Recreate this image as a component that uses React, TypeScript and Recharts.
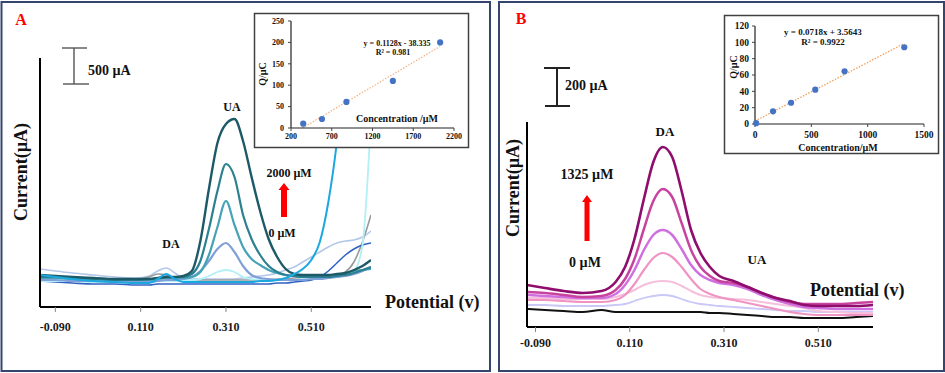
import React from 'react';
import { LineChart, Line, XAxis, YAxis, ComposedChart, Scatter } from 'recharts';

const FONT = "'Liberation Serif', 'Times New Roman', serif";

// ---------- Panel A : UA oxidation (potential in V, current in arbitrary units) ----------
const potentialsA = [-0.126, -0.09, -0.05, 0, 0.05, 0.1, 0.13, 0.15, 0.17, 0.19, 0.21, 0.23, 0.25, 0.27, 0.29, 0.31, 0.33, 0.35, 0.37, 0.39, 0.41, 0.43, 0.45, 0.47, 0.49, 0.51, 0.53, 0.55, 0.57, 0.59, 0.61, 0.63, 0.65];
const aDarkTeal = [32, 31, 30, 29, 28, 28, 28, 29, 30, 30, 31, 36, 66, 118, 164, 183, 188, 166, 130, 96, 68, 50, 38, 33, 32, 32, 32, 32, 33, 34, 37, 41, 47];
const aTeal = [30, 30, 29, 28, 27, 27, 28, 29, 30, 30, 30, 33, 46, 78, 116, 143, 130, 92, 68, 52, 41, 35, 32, 31, 30, 30, 30, 30, 31, 32, 34, 37, 40];
const aLightTeal = [29, 29, 28, 28, 27, 27, 27, 28, 29, 29, 29, 30, 35, 52, 80, 106, 82, 60, 48, 42, 37, 34, 32, 31, 30, 30, 30, 31, 32, 34, 36, 37, 38];
const aPeriwinkle = [27, 27, 26, 26, 25, 25, 25, 26, 27, 27, 28, 30, 36, 46, 58, 64, 55, 41, 32, 29, 28, 27, 27, 27, 27, 28, 28, 29, 30, 31, 33, 36, 40];
const aLightCyan = [26, 26, 26, 25, 25, 25, 25, 26, 26, 26, 27, 27, 28, 31, 35, 37, 35, 30, 28, 27, 27, 27, 27, 27, 28, 28, 29, 30, 31, 33, 36, 62, 190];
const aBrightBlue = [32, 30, 28, 26, 25, 24, 24, 28, 33, 28, 25, 25, 25, 25, 25, 25, 25, 25, 25, 26, 26, 27, 29, 33, 38, 47, 65, 105, 165, 250, 350, null, null];
const aGrey = [30, 30, 29, 29, 28, 28, 30, 33, 32, 29, 28, 27, 27, 27, 27, 27, 27, 27, 27, 27, 27, 28, 28, 29, 29, 30, 30, 31, 32, 35, 45, 65, 92];
const aSteel = [38, 36, 34, 32, 30, 29, 31, 36, 39, 34, 29, 28, 28, 28, 28, 28, 28, 29, 30, 31, 32, 34, 37, 40, 45, 50, 55, 60, 64, 66, 67, 70, 76];
const aRoyal = [26, 25, 24, 23, 23, 22, 22, 23, 23, 23, 23, 23, 23, 23, 23, 23, 23, 23, 23, 23, 23, 24, 24, 25, 26, 27, 30, 36, 44, 52, 58, 62, 64];
const ticksA = [-0.09, 0.11, 0.31, 0.51];

// Panel A inset
const concA = [350, 580, 880, 1450, 2030];
const chargeA = [10, 21, 61, 110, 200];
const trendConcA = [340, 2030];
const trendChargeA = [0, 190.6];
const insetTicksXA = [200, 700, 1200, 1700, 2200];
const insetTicksYA = [0, 50, 100, 150, 200, 250];

// ---------- Panel B : DA oxidation ----------
const potentialsB = [-0.108, -0.07, -0.03, 0.01, 0.05, 0.08, 0.1, 0.12, 0.14, 0.16, 0.18, 0.2, 0.22, 0.24, 0.26, 0.28, 0.3, 0.33, 0.36, 0.39, 0.42, 0.45, 0.48, 0.51, 0.55, 0.59, 0.626];
const bPurple = [42, 39, 36, 34, 36, 45, 60, 88, 128, 165, 180, 170, 136, 97, 74, 60, 51, 46, 40, 34, 29, 26, 22, 21, 21, 21, 22];
const bMagenta = [35, 34, 32, 30, 31, 37, 48, 68, 98, 126, 138, 130, 104, 77, 60, 51, 46, 44, 40, 34, 29, 25, 23, 23, 23, 24, 25];
const bOrchid = [32, 31, 30, 29, 29, 33, 42, 57, 77, 92, 97, 92, 78, 62, 52, 47, 44, 42, 38, 32, 27, 23, 20, 19, 18, 18, 18];
const bPink = [27, 27, 26, 25, 25, 27, 32, 43, 57, 69, 74, 70, 60, 48, 38, 33, 30, 27, 24, 21, 18, 15, 13, 12, 12, 12, 12];
const bLightPink = [29, 29, 28, 28, 28, 30, 33, 37, 42, 45, 46, 45, 41, 36, 32, 30, 29, 28, 27, 25, 23, 21, 19, 16, 15, 14, 14];
const bLavender = [22, 22, 21, 21, 21, 22, 23, 26, 29, 31, 32, 31, 28, 25, 23, 22, 21, 20, 19, 18, 17, 16, 16, 15, 15, 15, 15];
const bBlank = [18, 17, 16, 15, 17, 15, 15, 15, 15, 15, 15, 15, 15, 15, 15, 14, 14, 13, 12, 11, 10, 10, 9, 9, 9, 10, 11];
const ticksB = [-0.09, 0.11, 0.31, 0.51];

// Panel B inset
const concB = [10, 160, 320, 535, 795, 1325];
const chargeB = [1, 15.5, 26, 42, 64.5, 94];
const trendConcB = [0, 1325];
const trendChargeB = [3.6, 98.7];
const insetTicksXB = [0, 500, 1000, 1500];
const insetTicksYB = [0, 20, 40, 60, 80, 100, 120];

// ---------- series styling ----------
const seriesA = [
  { key: 'steel', values: aSteel, color: '#b3c7e8', width: 1.6 },
  { key: 'grey', values: aGrey, color: '#9a9a9a', width: 1.6 },
  { key: 'royal', values: aRoyal, color: '#3262c4', width: 1.6 },
  { key: 'cyan', values: aLightCyan, color: '#b3eff6', width: 1.8 },
  { key: 'peri', values: aPeriwinkle, color: '#7f9fd9', width: 2.2 },
  { key: 'lteal', values: aLightTeal, color: '#45a3b5', width: 2.2 },
  { key: 'teal', values: aTeal, color: '#2c8090', width: 2.2 },
  { key: 'dteal', values: aDarkTeal, color: '#1d5a68', width: 2.4 },
  { key: 'blue', values: aBrightBlue, color: '#1ba8df', width: 2 },
];

const seriesB = [
  { key: 'blank', values: bBlank, color: '#111111', width: 2 },
  { key: 'lav', values: bLavender, color: '#c9c8f6', width: 1.8 },
  { key: 'lpink', values: bLightPink, color: '#f6c0dc', width: 2 },
  { key: 'pink', values: bPink, color: '#f094c4', width: 2.2 },
  { key: 'orchid', values: bOrchid, color: '#d070e0', width: 2.5 },
  { key: 'magenta', values: bMagenta, color: '#c8439e', width: 2.5 },
  { key: 'purple', values: bPurple, color: '#8e0d6d', width: 2.6 },
];

const buildRows = (potentials: number[], series: { key: string; values: (number | null)[] }[]) =>
  potentials.map((v, i) => {
    const row: Record<string, number | null> = { v };
    series.forEach((s) => {
      row[s.key] = s.values[i];
    });
    return row;
  });

const rowsA = buildRows(potentialsA, seriesA);
const rowsB = buildRows(potentialsB, seriesB);
const pointsA = concA.map((x, i) => ({ x, y: chargeA[i] }));
const trendA = trendConcA.map((x, i) => ({ x, y: trendChargeA[i] }));
const pointsB = concB.map((x, i) => ({ x, y: chargeB[i] }));
const trendB = trendConcB.map((x, i) => ({ x, y: trendChargeB[i] }));

const fmt = (v: number) => v.toFixed(3);

const dotShape = (p: any) => <circle cx={p.cx} cy={p.cy} r={3.1} fill="#4472c4" />;

const mainTick = (p: any) => (
  <text
    x={p.x}
    y={p.y}
    dy="0.71em"
    textAnchor="middle"
    fontFamily={FONT}
    fontWeight={700}
    fontSize={12}
    fill="#1a1a1a"
  >
    {fmt(p.payload.value)}
  </text>
);

const T = (props: any) => {
  const { x, y, size = 12, children, anchor = 'middle', fill = '#111', rotate } = props;
  if (rotate) {
    return (
      <text
        transform={`translate(${x},${y}) rotate(-90)`}
        textAnchor="middle"
        dominantBaseline="central"
        fontFamily={FONT}
        fontWeight={700}
        fontSize={size}
        fill={fill}
      >
        {children}
      </text>
    );
  }
  return (
    <text x={x} y={y} textAnchor={anchor} dominantBaseline="central" fontFamily={FONT} fontWeight={700} fontSize={size} fill={fill}>
      {children}
    </text>
  );
};

export default function App() {
  return (
    <div style={{ position: 'absolute', left: 0, top: 0, width: 945, height: 373, background: '#fff', overflow: 'hidden' }}>
      {/* Panel A main chart */}
      <div style={{ position: 'absolute', left: 0, top: 0 }}>
        <LineChart width={490} height={373} data={rowsA} margin={{ top: 58, right: 119, bottom: 36, left: 30 }}>
          <XAxis
            dataKey="v"
            type="number"
            domain={[-0.126, 0.65]}
            ticks={ticksA}
            interval={0}
            allowDataOverflow
            height={30}
            axisLine={{ stroke: '#000', strokeWidth: 2 }}
            tickLine={{ stroke: '#888' }}
            tickSize={5}
            tickMargin={10}
            tick={mainTick}
          />
          <YAxis type="number" domain={[0, 249]} allowDataOverflow width={10} tick={false} tickLine={false} axisLine={{ stroke: '#000', strokeWidth: 2 }} />
          {seriesA.map((s) => (
            <Line key={s.key} dataKey={s.key} stroke={s.color} strokeWidth={s.width} dot={false} type="monotone" isAnimationActive={false} />
          ))}
        </LineChart>
      </div>

      {/* Panel B main chart */}
      <div style={{ position: 'absolute', left: 499, top: 0 }}>
        <LineChart width={446} height={373} data={rowsB} margin={{ top: 122, right: 72, bottom: 16, left: 18 }}>
          <XAxis
            dataKey="v"
            type="number"
            domain={[-0.108, 0.626]}
            ticks={ticksB}
            interval={0}
            allowDataOverflow
            height={30}
            axisLine={{ stroke: '#000', strokeWidth: 2 }}
            tickLine={{ stroke: '#888' }}
            tickSize={5}
            tickMargin={6}
            tick={mainTick}
          />
          <YAxis type="number" domain={[0, 205]} allowDataOverflow width={10} tick={false} tickLine={false} axisLine={{ stroke: '#000', strokeWidth: 2 }} />
          {seriesB.map((s) => (
            <Line key={s.key} dataKey={s.key} stroke={s.color} strokeWidth={s.width} dot={false} type="monotone" isAnimationActive={false} />
          ))}
        </LineChart>
      </div>

      {/* Inset A */}
      <div style={{ position: 'absolute', left: 254, top: 13, width: 215, height: 135, background: '#fff' }}>
        <ComposedChart width={215} height={135} margin={{ top: 8, right: 15, bottom: 4, left: 7 }}>
          <XAxis
            dataKey="x"
            type="number"
            domain={[200, 2200]}
            ticks={insetTicksXA}
            interval={0}
            height={16}
            axisLine={{ stroke: '#222', strokeWidth: 1.2 }}
            tickLine={{ stroke: '#444' }}
            tickSize={3}
            tickMargin={2}
            tick={{ fontSize: 8, fontWeight: 700, fill: '#111', fontFamily: FONT }}
          />
          <YAxis
            dataKey="y"
            type="number"
            domain={[0, 250]}
            ticks={insetTicksYA}
            interval={0}
            width={30}
            axisLine={{ stroke: '#222', strokeWidth: 1.2 }}
            tickLine={{ stroke: '#444' }}
            tickSize={3}
            tickMargin={4}
            tick={{ fontSize: 8, fontWeight: 700, fill: '#111', fontFamily: FONT }}
          />
          <Line data={trendA} dataKey="y" type="linear" stroke="#f4b183" strokeWidth={1.2} strokeDasharray="1.5 1.5" dot={false} isAnimationActive={false} />
          <Scatter data={pointsA} fill="#4472c4" shape={dotShape} isAnimationActive={false} />
        </ComposedChart>
      </div>

      {/* Inset B */}
      <div style={{ position: 'absolute', left: 724, top: 15, width: 215, height: 139, background: '#fff' }}>
        <ComposedChart width={215} height={139} margin={{ top: 11, right: 15, bottom: 10, left: 6 }}>
          <XAxis
            dataKey="x"
            type="number"
            domain={[0, 1500]}
            ticks={insetTicksXB}
            interval={0}
            height={20}
            axisLine={{ stroke: '#222', strokeWidth: 1.2 }}
            tickLine={{ stroke: '#444' }}
            tickSize={3}
            tickMargin={4}
            tick={{ fontSize: 9.5, fontWeight: 700, fill: '#111', fontFamily: FONT }}
          />
          <YAxis
            dataKey="y"
            type="number"
            domain={[0, 120]}
            ticks={insetTicksYB}
            interval={0}
            width={25}
            axisLine={{ stroke: '#222', strokeWidth: 1.2 }}
            tickLine={{ stroke: '#444' }}
            tickSize={3}
            tickMargin={3}
            tick={{ fontSize: 9.5, fontWeight: 700, fill: '#111', fontFamily: FONT }}
          />
          <Line data={trendB} dataKey="y" type="linear" stroke="#f0a060" strokeWidth={1.3} strokeDasharray="1.5 1.5" dot={false} isAnimationActive={false} />
          <Scatter data={pointsB} fill="#4472c4" shape={dotShape} isAnimationActive={false} />
        </ComposedChart>
      </div>

      {/* Overlay: frames, labels, scale bars, arrows */}
      <svg width={945} height={373} style={{ position: 'absolute', left: 0, top: 0, pointerEvents: 'none' }}>
        <rect x={1.5} y={2} width={488.5} height={369} fill="none" stroke="#34466e" strokeWidth={2} />
        <rect x={499} y={2} width={445} height={369} fill="none" stroke="#34466e" strokeWidth={2} />
        <rect x={254.5} y={13.5} width={214} height={134} fill="none" stroke="#404040" strokeWidth={1.5} />
        <rect x={724.5} y={15.5} width={214} height={138} fill="none" stroke="#404040" strokeWidth={1.5} />

        {/* Panel A labels */}
        <T x={21} y={19} size={16} fill="#ff0000">A</T>
        <line x1={74} y1={48} x2={74} y2={84} stroke="#555" strokeWidth={1.4} />
        <line x1={62} y1={48} x2={87} y2={48} stroke="#555" strokeWidth={1.4} />
        <line x1={63} y1={84} x2={89} y2={84} stroke="#555" strokeWidth={1.4} />
        <T x={88} y={70} size={14} anchor="start">500 µA</T>
        <T x={20.5} y={172} size={18} rotate>Current(µA)</T>
        <T x={232} y={107} size={12}>UA</T>
        <T x={171} y={244} size={12}>DA</T>
        <T x={289} y={173} size={12}>2000 µM</T>
        <T x={282} y={233} size={12}>0 µM</T>
        <polygon points="278.5,190 284,183 289.5,190 287,190 287,217 281,217 281,190" fill="#ff0000" />
        <T x={385} y={302} size={18} anchor="start">Potential (v)</T>
        <T x={262} y={74} size={10} rotate>Q/µC</T>
        <T x={397} y={118} size={10}>Concentration /µM</T>
        <T x={397} y={43} size={8}>y = 0.1128x - 38.335</T>
        <T x={393} y={52} size={8}>R² = 0.981</T>

        {/* Panel B labels */}
        <T x={521} y={18} size={16} fill="#ff0000">B</T>
        <line x1={557} y1={68} x2={557} y2={106} stroke="#222" strokeWidth={2} />
        <line x1={544} y1={68} x2={570} y2={68} stroke="#222" strokeWidth={2} />
        <line x1={545} y1={106} x2={570} y2={106} stroke="#222" strokeWidth={2} />
        <T x={565} y={85} size={14} anchor="start">200 µA</T>
        <T x={513} y={188} size={18} rotate>Current(µA)</T>
        <T x={665} y={131} size={13}>DA</T>
        <T x={587} y={174} size={14}>1325 µM</T>
        <T x={585} y={262} size={14}>0 µM</T>
        <T x={757} y={259} size={13}>UA</T>
        <polygon points="582,202 587,195 592,202 589.5,202 589.5,241 584.5,241 584.5,202" fill="#ff0000" />
        <T x={810} y={290} size={18} anchor="start">Potential (v)</T>
        <T x={733} y={67} size={10} rotate>Q/µC</T>
        <T x={838} y={147} size={10}>Concentration/µM</T>
        <T x={823} y={32} size={9}>y = 0.0718x + 3.5643</T>
        <T x={823} y={42} size={9}>R² = 0.9922</T>
      </svg>
    </div>
  );
}
